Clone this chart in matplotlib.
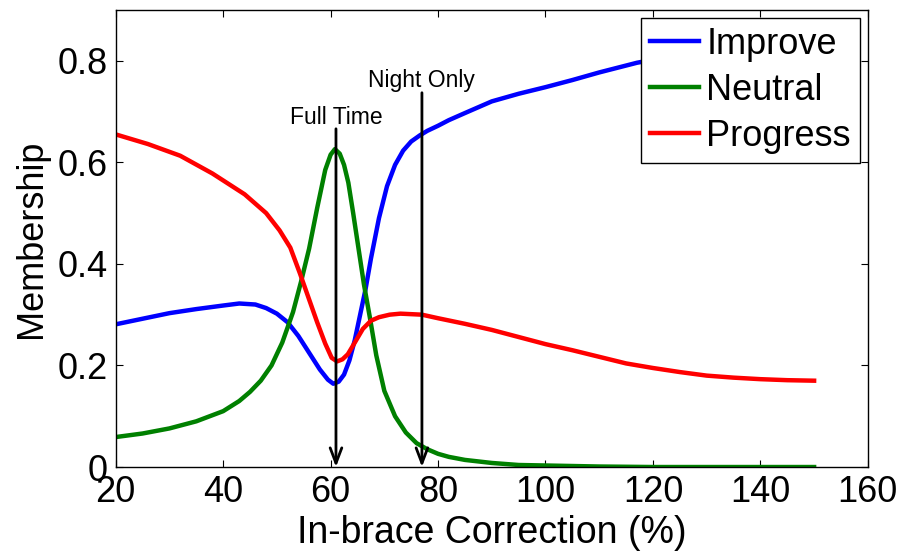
import matplotlib
matplotlib.use("Agg")
import matplotlib.pyplot as plt
import numpy as np

# ---- data ----
x_improve = [20, 25, 30, 35, 40, 43, 46, 48, 50, 52, 54, 56, 58, 59.5, 60.5, 61.5, 62.5, 63.5, 64.5, 65.5, 66.5, 67.5, 69, 70.5, 72, 73.5, 75, 76.6, 78, 80, 82, 85, 90, 95, 100, 105, 110, 117, 125, 130, 140, 150]
y_improve = [0.281, 0.292, 0.303, 0.311, 0.318, 0.322, 0.32, 0.313, 0.302, 0.285, 0.258, 0.225, 0.192, 0.172, 0.164, 0.168, 0.182, 0.21, 0.25, 0.3, 0.35, 0.41, 0.49, 0.553, 0.595, 0.623, 0.641, 0.653, 0.662, 0.672, 0.683, 0.697, 0.72, 0.735, 0.748, 0.762, 0.777, 0.796, 0.812, 0.82, 0.835, 0.85]

x_neutral = [20, 25, 30, 35, 40, 43, 45, 47, 49, 51, 53, 54.5, 56, 57.5, 59, 60, 60.8, 61.7, 62.5, 63.3, 64.2, 65.2, 66.2, 67.3, 68.5, 70, 72, 74, 76, 78, 80, 82, 85, 90, 95, 100, 105, 110, 120, 130, 140, 150]
y_neutral = [0.059, 0.066, 0.076, 0.09, 0.11, 0.13, 0.148, 0.17, 0.2, 0.245, 0.305, 0.365, 0.43, 0.51, 0.585, 0.615, 0.626, 0.617, 0.595, 0.56, 0.5, 0.43, 0.36, 0.295, 0.22, 0.15, 0.1, 0.068, 0.047, 0.035, 0.026, 0.02, 0.014, 0.008, 0.004, 0.003, 0.002, 0.001, 0.0, 0.0, 0.0, 0.0]

x_progress = [20, 26, 32, 38, 44, 48, 50.5, 52.5, 54.3, 56, 57.5, 59, 60.2, 61.2, 62.2, 63.2, 64.5, 66, 67.5, 69, 71, 73, 77, 80, 85, 90, 95, 100, 105, 110, 115, 120, 125, 130, 135, 140, 145, 150]
y_progress = [0.655, 0.636, 0.613, 0.578, 0.537, 0.5, 0.466, 0.432, 0.381, 0.33, 0.285, 0.243, 0.215, 0.208, 0.212, 0.222, 0.245, 0.272, 0.288, 0.295, 0.3, 0.302, 0.3, 0.293, 0.282, 0.27, 0.256, 0.242, 0.23, 0.217, 0.204, 0.195, 0.187, 0.18, 0.176, 0.173, 0.171, 0.17]

series_names = ["Improve", "Neutral", "Progress"]
series_colors = ["#0000ff", "#008000", "#ff0000"]

marker_labels = ["Full Time", "Night Only"]
marker_x = [61, 77]
marker_top = [0.666, 0.737]
marker_text_y = [0.676, 0.749]

plt.rcParams['font.family'] = ['Liberation Sans', 'DejaVu Sans']

fig = plt.figure(figsize=(9.04, 5.54), dpi=100)
ax = fig.add_axes([0.128, 0.157, 0.832, 0.825])

for xs, ys, name, c in zip([x_improve, x_neutral, x_progress],
                           [y_improve, y_neutral, y_progress],
                           series_names, series_colors):
    ax.plot(xs, ys, color=c, lw=3.2, label=name, solid_joinstyle="round")

for lab, mx, top, ty in zip(marker_labels, marker_x, marker_top, marker_text_y):
    ax.annotate("", xy=(mx, 0.0), xytext=(mx, top),
                arrowprops=dict(arrowstyle="->,head_length=1.1,head_width=0.42",
                                color="black", lw=2.0, shrinkA=0, shrinkB=0))
    ax.text(mx, ty, lab, ha="center", va="baseline", fontsize=16.5)

ax.set_xlim(20, 160)
ax.set_ylim(0, 0.9)
ax.set_xticks([20, 40, 60, 80, 100, 120, 140, 160])
ax.set_yticks([0, 0.2, 0.4, 0.6, 0.8])
ax.set_yticklabels(["0", "0.2", "0.4", "0.6", "0.8"])
ax.tick_params(direction="in", top=True, right=True, labelsize=26, length=5, width=0.8, pad=6)
ax.set_xlabel("In-brace Correction (%)", fontsize=27, labelpad=3)
ax.set_ylabel("Membership", fontsize=26, labelpad=6)
for s in ax.spines.values():
    s.set_linewidth(1.0)

leg = ax.legend(loc="upper right", fontsize=26, frameon=True, fancybox=False,
                edgecolor="black", framealpha=1, handlelength=1.35, handletextpad=0.2,
                borderpad=0.25, labelspacing=0.3, borderaxespad=0.22)
leg.get_frame().set_linewidth(1.0)

fig.savefig("out.png", dpi=100)
